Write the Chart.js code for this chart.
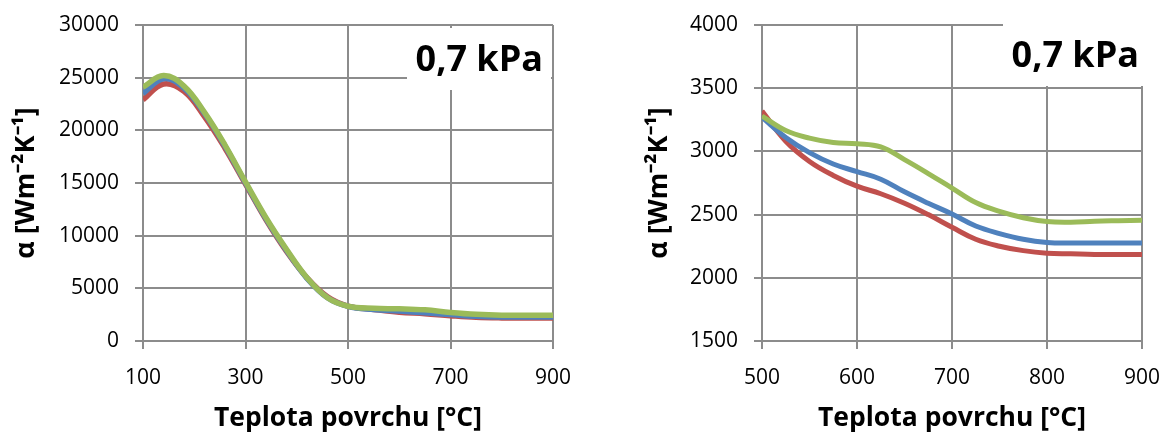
<!DOCTYPE html>
<html>
<head>
<meta charset="utf-8">
<script src="https://cdn.jsdelivr.net/npm/chart.js@4.4.1/dist/chart.umd.min.js"></script>
<style>
  html, body { margin: 0; padding: 0; background: #fff; }
  #wrap { width: 1166px; height: 434px; display: flex; }
  .box { width: 583px; height: 434px; position: relative; }
</style>
</head>
<body>
<div id="wrap">
  <div class="box"><canvas id="c1" width="583" height="434"></canvas></div>
  <div class="box"><canvas id="c2" width="583" height="434"></canvas></div>
</div>
<script>
// ---- data ----
const leftX     = [100, 140, 180, 220, 260, 300, 340, 380, 420, 460, 500, 550, 600, 650, 700, 750, 800, 850, 900];
const leftGreen = [24100, 25200, 24200, 21700, 18600, 15100, 11700, 8700, 6000, 4100, 3300, 3100, 3060, 2960, 2710, 2530, 2445, 2450, 2455];
const leftBlue  = [23500, 24900, 24000, 21600, 18500, 15000, 11600, 8600, 5950, 4100, 3280, 2980, 2840, 2680, 2510, 2350, 2280, 2275, 2275];
const leftRed   = [22900, 24400, 23700, 21300, 18300, 14900, 11500, 8500, 6000, 4200, 3320, 3000, 2730, 2590, 2400, 2250, 2195, 2190, 2190];

const rightX     = [500, 525, 550, 575, 600, 625, 650, 675, 700, 725, 750, 775, 800, 825, 850, 875, 900];
const rightGreen = [3280, 3165, 3105, 3070, 3060, 3035, 2935, 2825, 2710, 2595, 2525, 2475, 2445, 2440, 2448, 2452, 2455];
const rightBlue  = [3270, 3110, 2990, 2900, 2840, 2780, 2680, 2590, 2505, 2410, 2350, 2305, 2280, 2275, 2275, 2275, 2275];
const rightRed   = [3320, 3080, 2920, 2810, 2725, 2665, 2590, 2500, 2400, 2305, 2250, 2215, 2195, 2190, 2185, 2185, 2185];

const leftXTicks  = [100, 300, 500, 700, 900];
const leftYTicks  = [0, 5000, 10000, 15000, 20000, 25000, 30000];
const rightXTicks = [500, 600, 700, 800, 900];
const rightYTicks = [1500, 2000, 2500, 3000, 3500, 4000];

const pressureLabel = '0,7 kPa';
const xTitle = 'Teplota povrchu [°C]';
const yTitle = 'α [Wm⁻²K⁻¹]';

const GREEN = '#9BBB59', BLUE = '#4F81BD', RED = '#C0504D';
const GRID = '#8c8c8c';
const FONT = "'Open Sans', 'Liberation Sans', sans-serif";

function pts(xs, ys) { return xs.map((x, i) => ({ x: x, y: ys[i] })); }

function labelPlugin(opts) {
  return {
    id: 'pressureLabel',
    beforeDatasetsDraw(chart) {
      const ctx = chart.ctx, a = chart.chartArea;
      ctx.save();
      ctx.fillStyle = '#fff';
      ctx.fillRect(a.right + opts.dx1, a.top + opts.dy1, opts.w, opts.h);
      ctx.fillStyle = '#000';
      ctx.font = "bold 36px " + FONT;
      ctx.textAlign = 'right';
      ctx.textBaseline = 'middle';
      ctx.fillText(pressureLabel, a.right + opts.tx, a.top + opts.ty);
      ctx.restore();
    }
  };
}

function makeChart(id, xs, g, b, r, xTicks, yTicks, xmin, xmax, ymin, ymax, yAxisWidth, rightPad, lw, plug, yTitlePad) {
  return new Chart(document.getElementById(id), {
    type: 'line',
    data: {
      datasets: [
        { data: pts(xs, g), borderColor: GREEN, borderWidth: lw, tension: 0.4, pointRadius: 0, fill: false },
        { data: pts(xs, b), borderColor: BLUE, borderWidth: lw, tension: 0.4, pointRadius: 0, fill: false },
        { data: pts(xs, r), borderColor: RED, borderWidth: lw, tension: 0.4, pointRadius: 0, fill: false }
      ]
    },
    options: {
      responsive: false,
      animation: false,
      events: [],
      layout: { padding: { left: 0, right: rightPad, top: 25, bottom: 0 } },
      plugins: { legend: { display: false }, tooltip: { enabled: false } },
      scales: {
        x: {
          type: 'linear', min: xmin, max: xmax,
          afterBuildTicks: (s) => { s.ticks = xTicks.map(v => ({ value: v })); },
          afterFit: (s) => { s.height = 93; s.paddingLeft = 0; s.paddingRight = 0; },
          ticks: { color: '#000', font: { family: FONT, size: 21 }, padding: 16, maxRotation: 0 },
          grid: { color: GRID, lineWidth: 2, tickLength: 8, drawTicks: true },
          border: { color: GRID, width: 2 },
          title: { display: true, text: xTitle, color: '#000', font: { family: FONT, size: 26.5, weight: 'bold' }, padding: { top: 0, bottom: 0 } }
        },
        y: {
          type: 'linear', min: ymin, max: ymax,
          afterBuildTicks: (s) => { s.ticks = yTicks.map(v => ({ value: v })); },
          afterFit: (s) => { s.width = yAxisWidth; s.paddingTop = 0; s.paddingBottom = 0; },
          ticks: { color: '#000', font: { family: FONT, size: 21 }, padding: 16, callback: (v) => String(v) },
          grid: { color: GRID, lineWidth: 2, tickLength: 8, drawTicks: true },
          border: { color: GRID, width: 2 },
          title: { display: true, text: yTitle, color: '#000', font: { family: FONT, size: 27, weight: 'bold' }, padding: yTitlePad }
        }
      }
    },
    plugins: [plug]
  });
}

makeChart('c1', leftX, leftGreen, leftBlue, leftRed, leftXTicks, leftYTicks, 100, 900, 0, 30000,
  143, 30, 5.5, labelPlugin({ dx1: -146, dy1: 3, w: 144, h: 62, tx: -10, ty: 36 }), { top: 10, bottom: 0 });
makeChart('c2', rightX, rightGreen, rightBlue, rightRed, rightXTicks, rightYTicks, 500, 900, 1500, 4000,
  179, 24, 5, labelPlugin({ dx1: -139, dy1: -25, w: 170, h: 86, tx: -3, ty: 32 }), { top: 60, bottom: 0 });
</script>
</body>
</html>
